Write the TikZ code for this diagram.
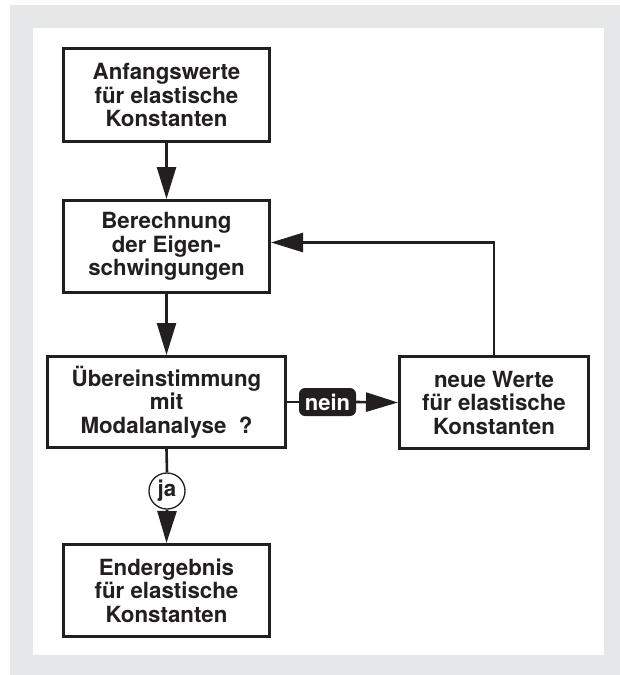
\documentclass[tikz,border=0pt]{standalone}
\usepackage{fontspec}
\setmainfont{TeX Gyre Heros}
\usetikzlibrary{arrows.meta}

\definecolor{ink}{HTML}{231F20}
\definecolor{panelgrey}{HTML}{E6E7E8}

\tikzset{
  stepbox/.style={draw=ink, line width=2.6pt, fill=white, align=center, text=ink,
    font=\bfseries\fontsize{22.3}{23.5}\selectfont, inner sep=0pt},
  flow/.style={draw=ink, line width=2.6pt, -{Triangle[length=32pt,width=19pt]}},
}

\begin{document}
\begin{tikzpicture}[x=1pt,y=-1pt]
    \useasboundingbox (0,0) rectangle (620,675);
    \fill[panelgrey] (10,5) rectangle (620,675); % frame
    \fill[white] (33,28) rectangle (604,655);

    \node[stepbox, minimum width=206.4pt, minimum height=93.4pt] (start) at (166.5,95) {Anfangswerte\\für elastische\\Konstanten};
    \node[stepbox, minimum width=206.4pt, minimum height=92.4pt] (calc) at (166.5,246.5) {Berechnung\\der Eigen-\\schwingungen};
    \node[stepbox, minimum width=238.4pt, minimum height=91.4pt] (check) at (166.5,402) {Übereinstimmung\\mit\\Modalanalyse~~?};
    \node[stepbox, minimum width=189.4pt, minimum height=92.4pt] (update) at (494,402.5) {neue Werte\\für elastische\\Konstanten};
    \node[stepbox, minimum width=206.4pt, minimum height=92.4pt] (result) at (166.5,590.5) {Endergebnis\\für elastische\\Konstanten};

    \node[fill=ink, text=white, rounded corners=6pt, minimum width=57pt, minimum height=28pt, inner sep=0pt,
        font=\bfseries\fontsize{22}{23}\selectfont] (no) at (327.5,402) {nein};
    \node[circle, draw=ink, line width=1.3pt, fill=white, minimum size=36pt, inner sep=0pt, text=ink,
        font=\bfseries\fontsize{22.3}{23.5}\selectfont] (yes) at (167,491) {ja};

    \draw[flow] (start) -- (calc);
    \draw[flow] (calc) -- (check);
    \draw[draw=ink, line width=2.6pt] (check.east) -- (no.west);
    \draw[flow] (no.east) -- (update.west);
    \draw[flow] (update.north) |- ([yshift=4pt]calc.east); % feedback
    \draw[draw=ink, line width=2.6pt] (check.south) -- (yes.north);
    \draw[flow] (yes.south) -- (result.north);
\end{tikzpicture}
\end{document}
